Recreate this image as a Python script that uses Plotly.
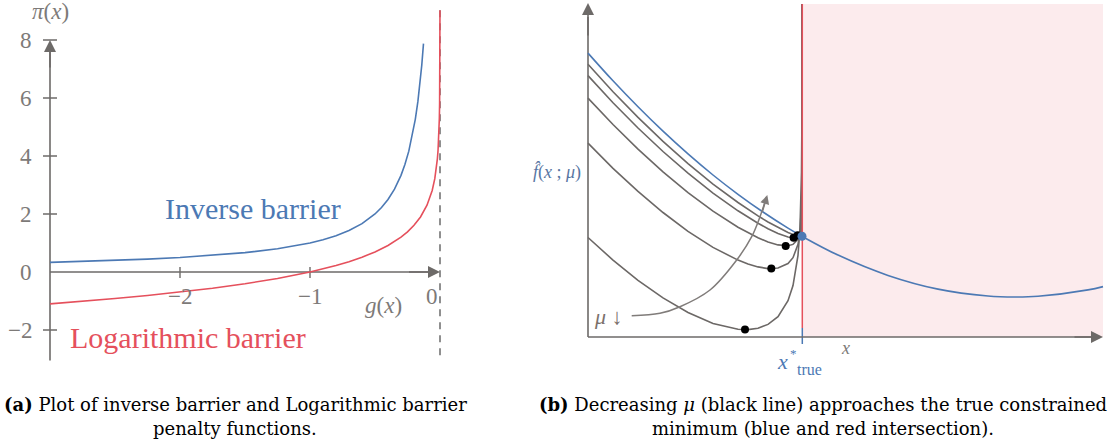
import plotly.graph_objects as go

# ---------------- data: panel (a) ----------------
g_inv = [-3.0, -2.75, -2.5, -2.25, -2.0, -1.75, -1.5, -1.25, -1.0, -0.9, -0.8, -0.7, -0.6,
         -0.5, -0.45, -0.4, -0.35, -0.3, -0.27, -0.24, -0.21, -0.19, -0.17, -0.155, -0.14, -0.127]
pi_inv = [0.333, 0.364, 0.4, 0.444, 0.5, 0.571, 0.667, 0.8, 1.0, 1.111, 1.25, 1.429, 1.667,
          2.0, 2.222, 2.5, 2.857, 3.333, 3.704, 4.167, 4.762, 5.263, 5.882, 6.452, 7.143, 7.874]

g_log = [-3.0, -2.75, -2.5, -2.25, -2.0, -1.75, -1.5, -1.25, -1.0, -0.9, -0.8, -0.7, -0.6,
         -0.5, -0.4, -0.3, -0.25, -0.2, -0.15, -0.1, -0.08, -0.06, -0.04, -0.03, -0.02,
         -0.015, -0.01, -0.007, -0.005, -0.003, -0.002, -0.001, -0.0005, -0.0002, -0.00012]
pi_log = [-1.099, -1.012, -0.916, -0.811, -0.693, -0.560, -0.405, -0.223, 0.0, 0.105, 0.223,
          0.357, 0.511, 0.693, 0.916, 1.204, 1.386, 1.609, 1.897, 2.303, 2.526, 2.813, 3.219,
          3.507, 3.912, 4.200, 4.605, 4.962, 5.298, 5.809, 6.215, 6.908, 7.601, 8.517, 9.03]

y_ticks_a = [-2, 2, 4, 6, 8]
y_tick_labels_a = ["\u22122", "2", "4", "6", "8"]
y_zero_label = "0"
x_ticks_a = [-2, -1]
x_tick_labels_a = ["\u22122", "\u22121"]

# ---------------- data: panel (b) ----------------
x_true = [0, 0.25, 0.5, 0.75, 1.0, 1.25, 1.5, 1.75, 2.0, 2.14, 2.5, 3.0, 3.5, 4.0, 4.27, 4.5, 5.0, 5.15]
f_true = [2.839, 2.562, 2.302, 2.058, 1.831, 1.620, 1.427, 1.250, 1.089, 1.007, 0.819, 0.616,
          0.479, 0.410, 0.400, 0.407, 0.471, 0.504]

x_pen = [0, 0.25, 0.5, 0.75, 1.0, 1.25, 1.5, 1.6, 1.7, 1.8, 1.9, 2.0, 2.05, 2.1, 2.12, 2.13,
         2.135, 2.138, 2.139, 2.1395]
pen_mu1 = [0.995, 0.769, 0.567, 0.391, 0.245, 0.135, 0.078, 0.074, 0.088, 0.126, 0.204, 0.363,
           0.514, 0.817, 1.089, 1.369, 1.650, 2.024, 2.308, 3.33]
pen_mu2 = [1.939, 1.687, 1.456, 1.245, 1.057, 0.896, 0.769, 0.730, 0.701, 0.684, 0.690, 0.735,
           0.793, 0.926, 1.053, 1.187, 1.322, 1.503, 1.642, 3.33]
pen_mu3 = [2.389, 2.125, 1.879, 1.651, 1.444, 1.258, 1.098, 1.042, 0.992, 0.950, 0.921, 0.912,
           0.926, 0.978, 1.035, 1.100, 1.166, 1.256, 1.325, 3.33]
pen_mu4 = [2.614, 2.343, 2.090, 1.855, 1.638, 1.439, 1.262, 1.198, 1.138, 1.083, 1.036, 1.000,
           0.992, 1.004, 1.027, 1.056, 1.088, 1.132, 1.167, 3.33]
pen_mu5 = [2.727, 2.453, 2.196, 1.956, 1.734, 1.529, 1.345, 1.276, 1.211, 1.150, 1.094, 1.045,
           1.026, 1.017, 1.022, 1.035, 1.049, 1.070, 1.087, 3.33]

min_x = [1.57, 1.833, 1.977, 2.056, 2.097]
min_y = [0.075, 0.684, 0.911, 0.993, 1.017]

x_con = 2.14
y_con = 1.007

mu_arrow_x = [0.437, 0.72, 0.92, 1.22, 1.487, 1.637, 1.72, 1.785]
mu_arrow_y = [0.213, 0.237, 0.303, 0.47, 0.77, 1.003, 1.203, 1.40]

# ---------------- styles ----------------
BLUE = "#4c79b4"
RED = "#e5505c"
AX = "#6d6a68"
TXT = "#7d7a78"
GRAY = "#6c6866"
FONT = "Liberation Serif"
CAPFONT = "DejaVu Serif"

fig = go.Figure()

# ---- panel (a) ----
fig.add_trace(go.Scatter(x=[0, 0], y=[9.03, -3.05], mode="lines",
                         line=dict(color="#6a6a6a", width=1.5, dash="7px,6px"),
                         xaxis="x", yaxis="y", hoverinfo="skip"))
fig.add_trace(go.Scatter(x=[-3, -3], y=[-3.05, 7.7], mode="lines",
                         line=dict(color=AX, width=1.6), xaxis="x", yaxis="y"))
fig.add_trace(go.Scatter(x=[-3, -0.07], y=[0, 0], mode="lines",
                         line=dict(color=AX, width=1.6), xaxis="x", yaxis="y"))
for t in y_ticks_a:
    fig.add_trace(go.Scatter(x=[-3.054, -2.946], y=[t, t], mode="lines",
                             line=dict(color=AX, width=1.4), xaxis="x", yaxis="y"))
for t in x_ticks_a:
    fig.add_trace(go.Scatter(x=[t, t], y=[0.17, -0.21], mode="lines",
                             line=dict(color=AX, width=1.4), xaxis="x", yaxis="y"))

fig.add_trace(go.Scatter(x=g_inv, y=pi_inv, mode="lines", line=dict(color=BLUE, width=1.6),
                         xaxis="x", yaxis="y"))
fig.add_trace(go.Scatter(x=g_log, y=pi_log, mode="lines", line=dict(color=RED, width=1.6),
                         xaxis="x", yaxis="y"))

# ---- panel (b) ----
for ys in [pen_mu1, pen_mu2, pen_mu3, pen_mu4, pen_mu5]:
    fig.add_trace(go.Scatter(x=x_pen, y=ys, mode="lines", line=dict(color=GRAY, width=1.6),
                             xaxis="x2", yaxis="y2"))
fig.add_trace(go.Scatter(x=[x_con + 0.003, x_con + 0.003], y=[0.09, 3.33], mode="lines",
                         line=dict(color=RED, width=1.5), xaxis="x2", yaxis="y2"))
fig.add_trace(go.Scatter(x=[x_con + 0.003, x_con + 0.003], y=[0.09, -0.07], mode="lines",
                         line=dict(color=BLUE, width=1.5), xaxis="x2", yaxis="y2"))
fig.add_trace(go.Scatter(x=[0, 0], y=[0, 3.2], mode="lines",
                         line=dict(color=AX, width=1.6), xaxis="x2", yaxis="y2"))
fig.add_trace(go.Scatter(x=[0, 5.03], y=[0, 0], mode="lines",
                         line=dict(color=AX, width=1.6), xaxis="x2", yaxis="y2"))
fig.add_trace(go.Scatter(x=x_true, y=f_true, mode="lines", line=dict(color=BLUE, width=1.6, shape="spline"),
                         xaxis="x2", yaxis="y2"))
fig.add_trace(go.Scatter(x=mu_arrow_x, y=mu_arrow_y, mode="lines",
                         line=dict(color="#807c7a", width=1.5, shape="spline"), xaxis="x2", yaxis="y2"))
fig.add_trace(go.Scatter(x=min_x, y=min_y, mode="markers", marker=dict(color="black", size=8),
                         xaxis="x2", yaxis="y2"))
fig.add_trace(go.Scatter(x=[x_con], y=[y_con], mode="markers", marker=dict(color=BLUE, size=9),
                         xaxis="x2", yaxis="y2"))

ann = []


def arrow(x, y, ax, ay, xr, yr, color=AX, size=1.5, width=1.6):
    ann.append(dict(x=x, y=y, ax=ax, ay=ay, xref=xr, yref=yr, axref=xr, ayref=yr,
                    text="", showarrow=True, arrowhead=2, arrowsize=size,
                    arrowwidth=width, arrowcolor=color, standoff=0))


def label(x, y, text, xr, yr, size, color=TXT, xanchor="center", family=FONT):
    ann.append(dict(x=x, y=y, xref=xr, yref=yr, text=text, showarrow=False,
                    xanchor=xanchor, yanchor="middle",
                    font=dict(family=family, size=size, color=color)))


arrow(-3, 8.0, -3, 7.0, "x", "y")
arrow(0.0, 0.0, -0.25, 0.0, "x", "y")
arrow(0, 3.34, 0, 3.0, "x2", "y2")
arrow(5.15, 0, 4.85, 0, "x2", "y2")
arrow(1.793, 1.42, 1.74, 1.24, "x2", "y2", color="#807c7a", size=1.2, width=1.5)

for t, lab in zip(y_ticks_a, y_tick_labels_a):
    label(-3.123, t, lab, "x", "y", 23, xanchor="right")
label(-3.123, 0, y_zero_label, "x", "y", 23, xanchor="right")
for t, lab in zip(x_ticks_a, x_tick_labels_a):
    label(t, -0.86, lab, "x", "y", 23)
label(-0.06, -0.86, "0", "x", "y", 23)
label(-0.438, -1.14, "<i>g</i>(<i>x</i>)", "x", "y", 23)
label(-3.0, 8.97, "<i>\u03c0</i>(<i>x</i>)", "x", "y", 23)
label(-1.438, 2.2, "Inverse barrier", "x", "y", 30, color=BLUE)
label(-1.936, -2.25, "Logarithmic barrier", "x", "y", 30, color=RED)

label(-0.31, 1.65, "<i>f\u0302</i>(<i>x</i> ; <i>\u03bc</i>)", "x2", "y2", 18, color="#5876a3")
label(0.20, 0.21, "<i>\u03bc</i> \u2193", "x2", "y2", 22, color="#7c716c")
label(2.57, -0.11, "<i>x</i>", "x2", "y2", 18)
label(1.94, -0.24, "<i>x</i>", "x2", "y2", 22, color=BLUE)
label(2.05, -0.16, "*", "x2", "y2", 13, color=BLUE)
label(2.215, -0.32, "true", "x2", "y2", 16, color=BLUE)

# captions
cap_font = dict(family=CAPFONT, size=18, color="black")
ann.append(dict(x=235 / 1113, y=1 - 404 / 443, xref="paper", yref="paper", showarrow=False,
                text="<b>(a)</b> Plot of inverse barrier and Logarithmic barrier", font=cap_font,
                xanchor="center", yanchor="middle"))
ann.append(dict(x=235 / 1113, y=1 - 428 / 443, xref="paper", yref="paper", showarrow=False,
                text="penalty functions.", font=cap_font, xanchor="center", yanchor="middle"))
ann.append(dict(x=823 / 1113, y=1 - 404 / 443, xref="paper", yref="paper", showarrow=False,
                text="<b>(b)</b> Decreasing <i>\u03bc</i> (black line) approaches the true constrained",
                font=cap_font, xanchor="center", yanchor="middle"))
ann.append(dict(x=823 / 1113, y=1 - 428 / 443, xref="paper", yref="paper", showarrow=False,
                text="minimum (blue and red intersection).", font=cap_font,
                xanchor="center", yanchor="middle"))

shapes = [dict(type="rect", xref="x2", yref="y2", x0=x_con, x1=5.15, y0=0, y1=3.33,
               fillcolor="#fcebed", line=dict(width=0), layer="below")]

fig.update_layout(
    width=1113, height=443, margin=dict(l=0, r=0, t=0, b=0),
    paper_bgcolor="white", plot_bgcolor="rgba(0,0,0,0)", showlegend=False,
    xaxis=dict(domain=[11 / 1113, 479 / 1113], range=[-3.3, 0.3], visible=False, fixedrange=True),
    yaxis=dict(domain=[1 - 364.8 / 443, 1 - 5.2 / 443], range=[-3.2, 9.2], visible=False, fixedrange=True),
    xaxis2=dict(domain=[533 / 1113, 1108 / 1113], range=[-0.55, 5.2], visible=False, fixedrange=True),
    yaxis2=dict(domain=[1 - 382 / 443, 1 - 2 / 443], range=[-0.45, 3.35], visible=False, fixedrange=True),
    annotations=ann, shapes=shapes, hovermode=False,
)

fig.write_html("out.html", config={"displayModeBar": False},
               post_script="document.body.style.margin='0';document.body.style.overflow='hidden';")
